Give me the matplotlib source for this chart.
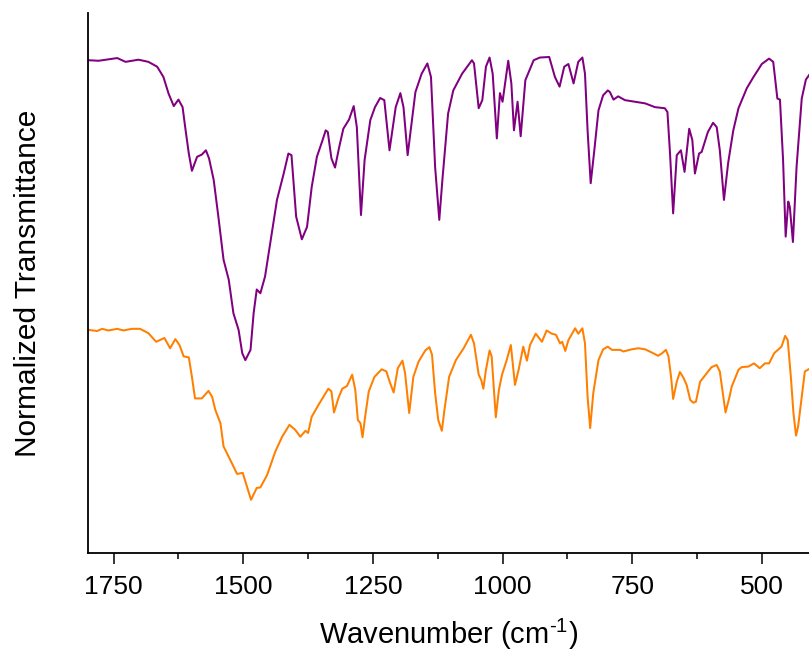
import matplotlib
matplotlib.use("Agg")
import matplotlib.pyplot as plt
from matplotlib.ticker import MultipleLocator

plt.rcParams['font.family'] = ['Liberation Sans', 'DejaVu Sans']
plt.rcParams['mathtext.fontset'] = 'custom'
plt.rcParams['mathtext.rm'] = 'Liberation Sans'
plt.rcParams['mathtext.it'] = 'Liberation Sans'

# Purple spectrum (top)
wn_purple = [1798, 1779, 1743, 1727, 1702, 1683, 1666, 1654, 1644, 1634, 1625, 1617,
             1612, 1605, 1599, 1589, 1580, 1572, 1566, 1557, 1548, 1538, 1528, 1519,
             1509, 1502, 1496, 1486, 1480, 1474, 1467, 1458, 1448, 1435, 1422, 1413,
             1407, 1398, 1387, 1377, 1368, 1358, 1347, 1341, 1337, 1330, 1323, 1315,
             1307, 1296, 1287, 1281, 1273, 1266, 1255, 1246, 1236, 1228, 1218, 1206,
             1197, 1191, 1183, 1168, 1156, 1145, 1138, 1130, 1122, 1116, 1105, 1095,
             1078, 1059, 1055, 1046, 1039, 1032, 1025, 1019, 1011, 1005, 1000, 995,
             989, 983, 978, 971, 965, 956, 940, 928, 910, 899, 890, 881, 873, 863,
             854, 846, 841, 836, 830, 823, 815, 806, 797, 793, 786, 777, 764, 744,
             725, 706, 687, 682, 677, 671, 664, 656, 649, 640, 634, 629, 621, 616,
             604, 594, 587, 581, 573, 565, 555, 545, 529, 516, 500, 486, 478, 470,
             465, 459, 454, 449, 446, 440, 433, 423, 415, 407]
t_purple = [91.3, 91.2, 91.7, 91.0, 91.4, 91.0, 90.1, 88.2, 85.1, 82.8, 84.0, 82.6,
            78.9, 74.0, 70.8, 73.4, 73.8, 74.6, 73.1, 69.1, 62.3, 54.3, 50.6, 44.4,
            41.3, 37.0, 35.7, 37.6, 44.4, 48.8, 48.1, 51.2, 57.4, 65.4, 70.3, 74.0,
            73.7, 62.3, 58.1, 60.4, 67.8, 73.4, 76.5, 78.3, 78.0, 73.1, 71.4, 75.2,
            78.6, 80.3, 82.8, 78.9, 62.6, 72.8, 80.2, 82.6, 84.3, 83.9, 74.6, 82.6,
            85.2, 82.6, 73.7, 85.4, 88.8, 90.7, 88.2, 71.5, 61.7, 69.1, 81.4, 85.7,
            88.8, 91.3, 90.7, 82.4, 83.9, 90.1, 91.8, 88.8, 76.8, 85.2, 83.6, 87.0,
            91.2, 87.0, 78.3, 83.6, 77.2, 87.6, 91.3, 91.8, 91.9, 88.2, 86.4, 90.1,
            90.6, 87.0, 91.0, 91.8, 88.8, 78.3, 68.5, 74.6, 82.0, 84.8, 85.7, 85.4,
            84.0, 84.6, 83.9, 83.6, 83.3, 82.6, 82.4, 81.7, 74.0, 62.9, 73.7, 74.6,
            70.6, 78.6, 76.5, 70.3, 74.0, 74.3, 78.0, 79.7, 78.9, 74.6, 65.4, 72.2,
            78.3, 82.4, 86.1, 88.2, 90.6, 91.6, 91.0, 84.2, 84.0, 72.8, 58.6, 65.1,
            64.1, 57.6, 71.5, 84.2, 87.7, 88.8]

# Orange spectrum (bottom)
wn_orange = [1798, 1782, 1772, 1760, 1743, 1731, 1715, 1699, 1683, 1668, 1652, 1641,
             1631, 1623, 1615, 1605, 1599, 1593, 1580, 1567, 1560, 1554, 1544, 1538,
             1522, 1512, 1501, 1493, 1485, 1474, 1467, 1454, 1438, 1425, 1411, 1400,
             1390, 1380, 1375, 1368, 1355, 1343, 1336, 1330, 1325, 1316, 1309, 1300,
             1290, 1284, 1279, 1274, 1270, 1265, 1258, 1247, 1233, 1224, 1217, 1210,
             1202, 1193, 1188, 1180, 1172, 1162, 1149, 1141, 1136, 1130, 1124, 1117,
             1112, 1103, 1090, 1075, 1061, 1055, 1046, 1041, 1037, 1032, 1025, 1021,
             1013, 1007, 1001, 992, 984, 976, 969, 960, 953, 947, 936, 924, 915, 905,
             897, 889, 885, 879, 873, 860, 854, 846, 841, 836, 831, 825, 815, 806,
             797, 789, 773, 767, 751, 738, 725, 712, 700, 692, 685, 680, 675, 671,
             664, 658, 651, 645, 638, 632, 627, 619, 606, 597, 587, 581, 576, 570,
             563, 558, 545, 539, 526, 515, 504, 494, 486, 476, 462, 455, 450, 444,
             439, 434, 430, 423, 417, 408]
t_orange = [41.3, 41.1, 41.5, 41.2, 41.5, 41.2, 41.5, 41.5, 40.7, 39.1, 39.8, 37.9,
            39.6, 38.5, 36.4, 36.2, 32.6, 28.6, 28.6, 30.0, 28.9, 26.5, 24.0, 19.7,
            16.6, 14.6, 14.8, 12.3, 9.8, 12.0, 12.1, 14.4, 18.8, 21.5, 23.7, 22.8,
            21.5, 22.6, 22.2, 25.2, 27.4, 29.3, 30.4, 29.9, 26.0, 28.8, 30.4, 30.9,
            33.0, 30.2, 24.6, 24.0, 21.4, 25.2, 29.9, 32.6, 34.0, 33.6, 31.5, 29.7,
            34.2, 35.6, 33.3, 25.9, 32.6, 35.4, 37.5, 38.1, 36.7, 29.6, 24.6, 22.6,
            26.5, 32.6, 35.7, 37.9, 40.4, 38.8, 33.0, 32.0, 30.4, 33.9, 37.5, 36.4,
            25.1, 30.2, 33.0, 35.7, 38.5, 31.1, 33.9, 38.2, 35.6, 38.5, 40.6, 39.1,
            41.2, 40.6, 40.4, 38.8, 39.1, 37.4, 39.4, 41.6, 40.6, 41.6, 38.8, 28.9,
            23.1, 29.6, 35.7, 37.7, 38.2, 37.6, 37.6, 37.3, 37.7, 37.9, 37.7, 37.1,
            36.5, 37.0, 37.6, 36.4, 32.6, 28.5, 31.7, 33.5, 32.4, 31.1, 28.3, 27.8,
            28.0, 31.7, 33.3, 34.4, 34.8, 33.6, 30.2, 26.0, 28.6, 30.8, 33.9, 34.4,
            34.5, 35.1, 34.2, 35.1, 35.1, 37.0, 38.2, 40.2, 39.4, 32.6, 25.9, 21.7,
            23.4, 28.9, 33.6, 34.1]

x_label = r"Wavenumber (cm$^{\text{-}1}$)"
y_label = "Normalized Transmittance"
major_ticks = [1750, 1500, 1250, 1000, 750, 500]

fig = plt.figure(figsize=(8.09, 6.55), dpi=100)
ax = fig.add_axes([0.1084, 0.1562, 0.8916, 0.8235])

ax.plot(wn_purple, t_purple, color='#800080', lw=1.45)
ax.plot(wn_orange, t_orange, color='#FF7F00', lw=1.45)

ax.set_xlim(1800, 409)
ax.set_ylim(0, 100)
ax.set_xticks(major_ticks)
ax.set_xticklabels([str(t) for t in major_ticks])
ax.xaxis.set_minor_locator(MultipleLocator(125))
ax.set_yticks([])

for s in ['top', 'right']:
    ax.spines[s].set_visible(False)
for s in ['left', 'bottom']:
    ax.spines[s].set_linewidth(1.3)
    ax.spines[s].set_color('black')

ax.tick_params(axis='x', which='major', direction='out', length=8, width=1.1,
               labelsize=19, pad=8)
ax.tick_params(axis='x', which='minor', direction='out', length=4.5, width=1.1)

ax.set_xlabel(x_label, fontsize=21, labelpad=13)
ax.set_ylabel(y_label, fontsize=21.5, labelpad=33)

fig.savefig("out.png", dpi=100)
